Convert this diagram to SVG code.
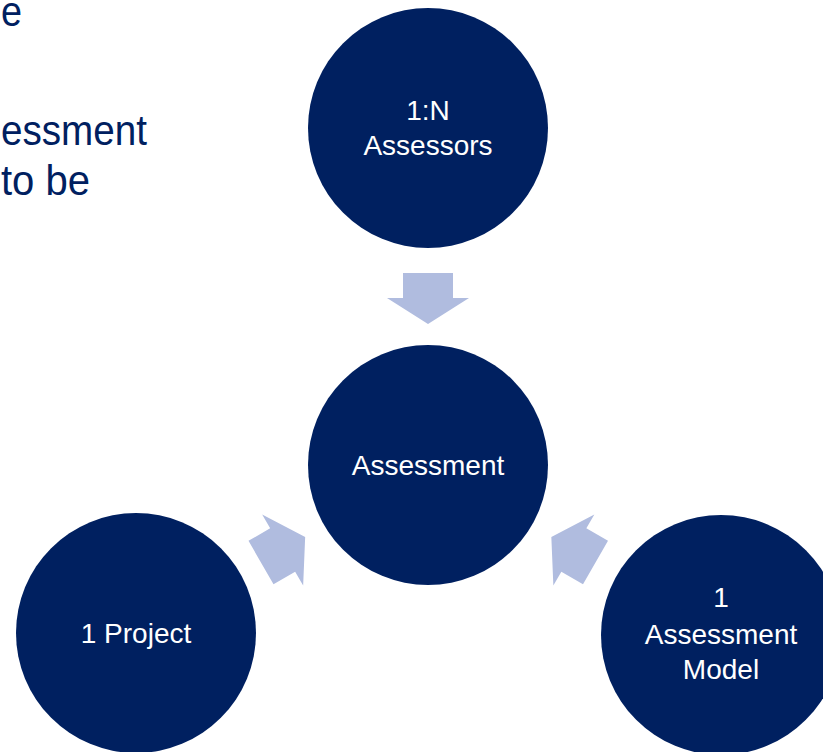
<svg xmlns="http://www.w3.org/2000/svg" width="823" height="752" viewBox="0 0 823 752">
<style>
.node{fill:#002060}
.lbl{fill:#ffffff;font-family:"Liberation Sans",Arial,sans-serif;font-size:28px;text-anchor:middle}
.title{fill:#002060;font-family:"Liberation Sans",Arial,sans-serif;font-size:43px}
.arrow{fill:#B0BCDF}
</style>
<defs>
<polygon id="arr" points="0,-25 25,-25 25,-41 51,0 25,41 25,25 0,25"/>
</defs>
<rect width="823" height="752" fill="#ffffff"/>
<g id="title">
<text class="title" x="1" y="26" textLength="21" lengthAdjust="spacingAndGlyphs">e</text>
<text class="title" x="1" y="145" textLength="146" lengthAdjust="spacingAndGlyphs">essment</text>
<text class="title" x="1" y="195" textLength="89" lengthAdjust="spacingAndGlyphs">to be</text>
</g>
<g id="connectors">
<use href="#arr" class="arrow" transform="translate(428,273) rotate(90)"/>
<use href="#arr" class="arrow" transform="translate(261,562.5) rotate(-30)"/>
<use href="#arr" class="arrow" transform="translate(595.5,562.5) rotate(-150)"/>
</g>
<g id="assessors">
<circle class="node" cx="428" cy="128" r="120"/>
<text class="lbl" x="428" y="120">1:N</text>
<text class="lbl" x="428" y="155">Assessors</text>
</g>
<g id="assessment">
<circle class="node" cx="428" cy="465" r="120"/>
<text class="lbl" x="428" y="475">Assessment</text>
</g>
<g id="project">
<circle class="node" cx="136" cy="633" r="120"/>
<text class="lbl" x="136" y="643">1 Project</text>
</g>
<g id="model">
<circle class="node" cx="721" cy="635" r="120"/>
<text class="lbl" x="721" y="607">1</text>
<text class="lbl" x="721" y="644">Assessment</text>
<text class="lbl" x="721" y="679">Model</text>
</g>
</svg>
